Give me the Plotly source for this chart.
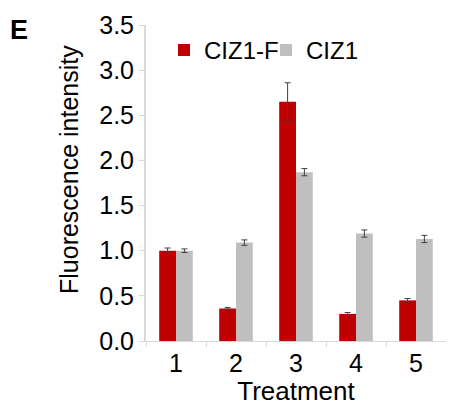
import plotly.graph_objects as go

categories = ["1", "2", "3", "4", "5"]
ciz1f_values = [1.00, 0.36, 2.65, 0.30, 0.45]
ciz1f_errors = [0.03, 0.01, 0.21, 0.015, 0.02]
ciz1_values = [1.00, 1.09, 1.87, 1.19, 1.13]
ciz1_errors = [0.02, 0.03, 0.04, 0.04, 0.04]
y_ticks = [0.0, 0.5, 1.0, 1.5, 2.0, 2.5, 3.0, 3.5]
y_tick_labels = ["0.0", "0.5", "1.0", "1.5", "2.0", "2.5", "3.0", "3.5"]

FONT = "Liberation Sans, Arial, Helvetica, sans-serif"
err_style = dict(type="data", thickness=1, width=3, color="#404040")

fig = go.Figure()
fig.add_trace(go.Bar(
    x=categories, y=ciz1f_values, name="CIZ1-F",
    marker=dict(color="#C00000", line=dict(width=0)),
    error_y=dict(array=ciz1f_errors, **err_style),
))
fig.add_trace(go.Bar(
    x=categories, y=ciz1_values, name="CIZ1",
    marker=dict(color="#BFBFBF", line=dict(width=0)),
    error_y=dict(array=ciz1_errors, **err_style),
))

# page body has an 8px default margin; figure is sized to fill the rest
fig.update_layout(
    width=446, height=398,
    margin=dict(l=138, r=8, t=17, b=65, autoexpand=False),
    paper_bgcolor="white", plot_bgcolor="white",
    barmode="group", bargap=0.44, bargroupgap=0,
    font=dict(family=FONT, color="black", size=24),
    legend=dict(
        orientation="h", x=0.06, y=0.92, xanchor="left", yanchor="middle",
        font=dict(size=24), itemwidth=30, entrywidth=57, entrywidthmode="pixels",
        tracegroupgap=0, bgcolor="rgba(0,0,0,0)",
    ),
    showlegend=True,
)
fig.update_xaxes(
    type="category", showline=True, linecolor="#D9D9D9", linewidth=1,
    ticks="outside", tickson="boundaries", ticklen=5, tickcolor="#D9D9D9",
    tickfont=dict(size=25), automargin=False,
    title=dict(text="Treatment", font=dict(size=26), standoff=0),
    showgrid=False,
)
fig.update_yaxes(
    range=[0, 3.5], tickvals=y_ticks, ticktext=y_tick_labels,
    showline=True, linecolor="#D9D9D9", linewidth=2,
    ticks="outside", ticklen=5, tickcolor="#D9D9D9",
    tickfont=dict(size=25), automargin=False,
    showgrid=False, zeroline=False,
)
fig.add_annotation(
    text="Fluorescence intensity", xref="paper", yref="paper",
    x=-77/300, y=171/316, xanchor="center", yanchor="middle",
    textangle=-90, showarrow=False,
    font=dict(size=25, family=FONT, color="black"),
)
fig.add_annotation(
    text="<b>E</b>", xref="paper", yref="paper", x=-138/300, y=1 + 12/316,
    xanchor="left", yanchor="top", showarrow=False,
    font=dict(size=27, family=FONT, color="black"),
)

fig.write_html("out.html")
